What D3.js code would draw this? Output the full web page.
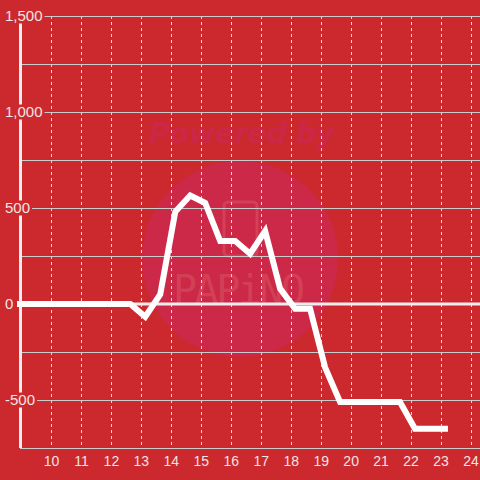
<!DOCTYPE html>
<html><head><meta charset="utf-8">
<script src="https://cdn.jsdelivr.net/npm/d3@7"></script>
<style>html,body{margin:0;padding:0;background:#cc292e;}svg{display:block;}</style>
</head><body><svg id="c" width="480" height="480"></svg>
<script>
const xTicks = [10,11,12,13,14,15,16,17,18,19,20,21,22,23,24];
const yTicks = [-500,0,500,1000,1500];
const yGrid = [-750,-500,-250,0,250,500,750,1000,1250,1500];
const times = [8.95,12.63,13.13,13.63,14.13,14.63,15.13,15.63,16.13,16.63,17.13,17.63,18.13,18.63,19.13,19.63,20.13,20.63,21.13,21.63,22.13,22.63,23.13];
const values = [0,0,-66,50,480,565,526,328,328,262,380,80,-25,-25,-330,-510,-510,-510,-510,-510,-650,-650,-650];

(function(){
const svg = d3.select('#c');
const W=480,H=480, mL=20, mR=480, mT=16, mB=448;
const bg = '#cc292e';
svg.append('rect').attr('width',W).attr('height',H).attr('fill',bg);
const x = d3.scaleLinear().domain([8.95,24.3]).range([mL,mR]);
const y = d3.scaleLinear().domain([-750,1500]).range([mB,mT]);

// watermark
const wm = svg.append('g');
wm.append('circle').attr('cx',240).attr('cy',259).attr('r',98).attr('fill','#cc2848');
wm.append('text').attr('x',242).attr('y',143).attr('text-anchor','middle')
  .attr('font-family','DejaVu Sans, sans-serif').attr('font-weight','bold').attr('font-style','italic')
  .attr('font-size',29).attr('textLength',186).attr('fill','#cb2746').text('Powered by');
wm.append('rect').attr('x',224).attr('y',202).attr('width',33).attr('height',54).attr('rx',4)
  .attr('fill','none').attr('stroke','#d85060').attr('stroke-width',3).attr('opacity',0.6);
wm.append('text').attr('x',239).attr('y',304).attr('text-anchor','middle')
  .attr('font-family','DejaVu Sans Mono, monospace').attr('font-size',40).attr('textLength',132)
  .attr('fill','#d85060').attr('opacity',0.6).text('PAPiNO');

// vertical dashed grid
svg.append('g').selectAll('line').data(xTicks).join('line')
  .attr('x1',d=>Math.round(x(d))+0.5).attr('x2',d=>Math.round(x(d))+0.5)
  .attr('y1',mT).attr('y2',mB)
  .attr('stroke','#dddddd').attr('stroke-width',1).attr('stroke-dasharray','3,3');
// horizontal grid
svg.append('g').selectAll('line').data(yGrid.filter(d=>d!==0)).join('line')
  .attr('x1',mL).attr('x2',mR)
  .attr('y1',d=>Math.round(y(d))+0.5).attr('y2',d=>Math.round(y(d))+0.5)
  .attr('stroke','#cccccc').attr('stroke-width',1);
// zero line
svg.append('line').attr('x1',mL).attr('x2',mR).attr('y1',y(0)).attr('y2',y(0))
  .attr('stroke','#eeeeee').attr('stroke-width',3);
// y axis line
svg.append('line').attr('x1',20.5).attr('x2',20.5).attr('y1',mT).attr('y2',mB)
  .attr('stroke','#eeeeee').attr('stroke-width',3);

// data line
const line = d3.line().x((d,i)=>x(times[i])).y(d=>y(d));
svg.append('path').attr('d',line(values)).attr('fill','none')
  .attr('stroke','#ffffff').attr('stroke-width',6).attr('stroke-linecap','square').attr('stroke-linejoin','miter');

// y labels with background
const fmt = d3.format(',');
const yl = svg.append('g').selectAll('g').data(yTicks).join('g');
yl.each(function(d){
  const g = d3.select(this);
  const t = g.append('text').attr('x',5).attr('y',y(d)).attr('dy','0.35em')
    .attr('font-family','Liberation Sans, Arial, sans-serif').attr('font-size',15)
    .attr('fill','#f2e4e4').text(d<0?'-'+fmt(-d):fmt(d));
  const bb = t.node().getBBox();
  g.insert('rect','text').attr('x',bb.x-1).attr('y',y(d)-7.5).attr('width',bb.width+3).attr('height',15).attr('fill',bg);
});
// x labels
svg.append('g').selectAll('text').data(xTicks).join('text')
  .attr('x',d=>x(d)).attr('y',466).attr('text-anchor','middle')
  .attr('font-family','Liberation Sans, Arial, sans-serif').attr('font-size',14)
  .attr('fill','#f2e4e4').text(d=>d);
})();
</script></body></html>
